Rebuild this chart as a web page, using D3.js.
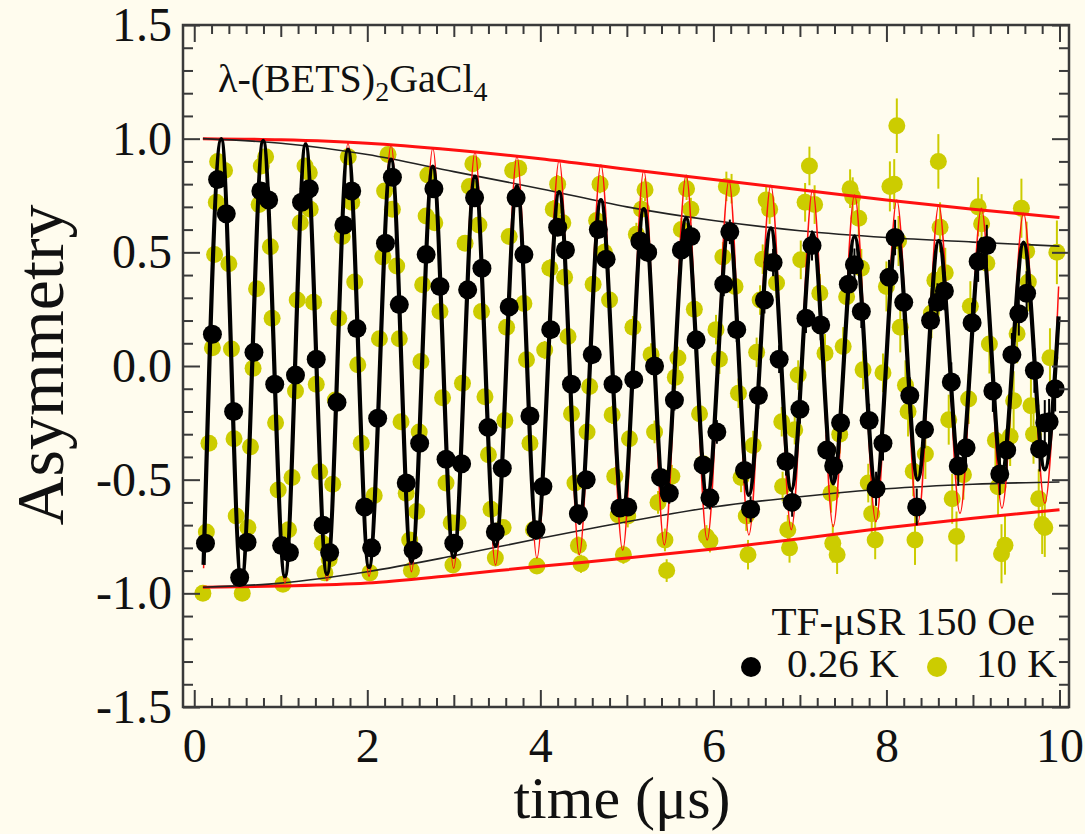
<!DOCTYPE html>
<html><head><meta charset="utf-8">
<script src="https://cdn.jsdelivr.net/npm/d3@7"></script>
<style>
html,body{margin:0;padding:0;background:#fffcee;}
svg{display:block;}
text{font-family:"Liberation Serif","Times New Roman",serif;fill:#111;}
</style></head><body>
<svg id="chart" width="1085" height="834"></svg>
<script>
// ---- tick labels ----
const xTicks = [0, 2, 4, 6, 8, 10];
const yTicks = [-1.5, -1.0, -0.5, 0.0, 0.5, 1.0, 1.5];

// ---- 0.26 K data: [time (us), asymmetry, error] ----
const coldData = [
[0.13,-0.78,.012],[0.21,0.14,.012],[0.27,0.82,.012],[0.37,0.67,.013],[0.455,-0.20,.013],[0.525,-0.93,.013],[0.61,-0.775,.013],[0.69,0.06,.013],[0.77,0.77,.014],[0.86,0.73,.014],[0.93,-0.08,.014],[1.01,-0.79,.015],[1.10,-0.82,.015],[1.17,-0.04,.015],[1.24,0.72,.015],[1.33,0.78,.016],[1.41,0.03,.016],[1.49,-0.70,.016],[1.565,-0.82,.017],[1.65,-0.16,.017],[1.73,0.62,.017],[1.82,0.77,.018],[1.88,0.165,.018],[1.97,-0.62,.018],
[2.05,-0.80,.02],[2.12,-0.23,.02],[2.21,0.54,.02],[2.29,0.83,.02],[2.37,0.27,.021],[2.45,-0.515,.021],[2.53,-0.81,.022],[2.605,-0.34,.022],[2.68,0.49,.023],[2.77,0.78,.023],[2.84,0.35,.024],[2.91,-0.41,.024],[3.00,-0.78,.025],[3.09,-0.43,.025],[3.16,0.335,.026],[3.24,0.74,.026],[3.325,0.43,.027],[3.395,-0.27,.027],[3.48,-0.73,.028],[3.56,-0.45,.028],[3.64,0.26,.029],[3.72,0.74,.029],[3.81,0.49,.03],[3.88,-0.22,.03],[3.95,-0.72,.031],
[4.03,-0.53,.032],[4.12,0.16,.032],[4.20,0.61,.033],[4.29,0.51,.034],[4.36,-0.08,.034],[4.44,-0.65,.035],[4.53,-0.50,.036],[4.60,0.05,.036],[4.67,0.60,.037],[4.76,0.47,.038],[4.84,-0.08,.038],[4.92,-0.625,.039],[5.01,-0.62,.04],[5.08,-0.06,.041],[5.15,0.55,.042],[5.24,0.50,.043],[5.32,0.0,.044],[5.39,-0.49,.045],[5.49,-0.56,.046],[5.55,-0.15,.046],[5.63,0.51,.047],[5.74,0.57,.048],[5.80,0.115,.049],[5.88,-0.435,.05],[5.96,-0.58,.051],
[6.04,-0.29,.052],[6.12,0.36,.053],[6.19,0.59,.054],[6.27,0.16,.055],[6.36,-0.46,.056],[6.43,-0.63,.057],[6.52,-0.13,.058],[6.59,0.29,.059],[6.69,0.455,.06],[6.76,0.03,.061],[6.84,-0.42,.062],[6.91,-0.60,.063],[7.00,-0.19,.064],[7.07,0.21,.065],[7.14,0.53,.066],[7.24,0.18,.067],[7.31,-0.37,.068],[7.39,-0.44,.069],[7.47,-0.25,.07],[7.56,0.36,.071],[7.63,0.445,.072],[7.71,0.24,.073],[7.80,-0.24,.074],[7.88,-0.54,.075],[7.96,-0.34,.076],
[8.03,0.39,.077],[8.10,0.565,.078],[8.20,0.28,.079],[8.27,-0.13,.08],[8.35,-0.62,.081],[8.44,-0.28,.082],[8.51,0.20,.083],[8.59,0.28,.084],[8.67,0.33,.085],[8.75,-0.07,.086],[8.83,-0.44,.087],[8.92,-0.36,.088],[8.99,0.19,.089],[9.06,0.46,.09],[9.16,0.53,.091],[9.23,-0.11,.092],[9.31,-0.475,.093],[9.39,-0.37,.094],[9.45,0.05,.095],[9.53,0.23,.096],[9.62,0.32,.097],[9.71,-0.02,.098],[9.77,-0.365,.099],[9.83,-0.25,.1],[9.88,-0.245,.1],[9.95,-0.10,.1]
];

// ---- 10 K data: [time (us), asymmetry, error] ----
const warmData = [
[0.10,-1.00,.015],[0.14,-0.73,.015],[0.17,-0.34,.015],[0.21,0.08,.015],[0.235,0.49,.015],[0.255,0.72,.015],[0.27,0.90,.015],[0.35,0.86,.015],[0.40,0.45,.015],[0.43,0.075,.015],[0.46,-0.32,.015],[0.485,-0.66,.015],[0.555,-1.00,.015],[0.62,-0.71,.015],[0.65,-0.355,.015],[0.68,-0.01,.015],[0.72,0.34,.015],[0.75,0.71,.015],[0.775,0.88,.015],[0.825,0.92,.015],[0.88,0.525,.015],[0.90,0.21,.015],[0.94,-0.25,.015],[0.97,-0.545,.015],
[1.025,-0.96,.02],[1.09,-0.72,.02],[1.13,-0.49,.02],[1.17,-0.11,.02],[1.19,0.29,.02],[1.225,0.63,.02],[1.28,0.88,.02],[1.33,0.85,.02],[1.34,0.69,.02],[1.38,0.28,.02],[1.41,-0.08,.02],[1.45,-0.465,.02],[1.48,-0.78,.02],[1.51,-0.91,.02],[1.56,-0.85,.02],[1.60,-0.52,.02],[1.63,-0.15,.02],[1.67,0.21,.02],[1.71,0.57,.02],[1.78,0.92,.02],[1.82,0.72,.02],[1.855,0.37,.02],[1.89,0.005,.02],[1.93,-0.34,.02],
[2.03,-0.91,.025],[2.08,-0.57,.025],[2.14,0.12,.025],[2.18,0.48,.025],[2.20,0.77,.025],[2.24,0.93,.025],[2.29,0.69,.025],[2.34,0.44,.025],[2.37,0.12,.025],[2.39,-0.245,.025],[2.45,-0.56,.025],[2.49,-0.765,.025],[2.51,-0.90,.025],[2.57,-0.64,.025],[2.60,-0.29,.025],[2.62,0.02,.025],[2.64,0.357,.025],[2.68,0.66,.025],[2.70,0.84,.025],[2.78,0.63,.025],[2.84,0.24,.025],[2.87,-0.14,.025],[2.91,-0.515,.025],[2.97,-0.69,.025],[2.99,-0.875,.025],
[3.05,-0.69,.03],[3.10,-0.076,.03],[3.13,0.54,.03],[3.18,0.79,.03],[3.22,0.89,.03],[3.29,0.62,.03],[3.32,0.24,.03],[3.36,-0.135,.03],[3.40,-0.39,.03],[3.43,-0.63,.03],[3.48,-0.845,.03],[3.57,-0.71,.03],[3.59,-0.24,.03],[3.61,0.17,.03],[3.64,0.57,.03],[3.68,0.86,.03],[3.75,0.87,.03],[3.81,0.275,.03],[3.84,0.027,.03],[3.88,-0.34,.03],[3.92,-0.72,.03],[3.96,-0.88,.03],
[4.05,0.07,.04],[4.11,0.43,.04],[4.15,0.69,.04],[4.20,0.80,.04],[4.26,0.63,.04],[4.28,0.39,.04],[4.32,0.13,.04],[4.36,-0.21,.04],[4.40,-0.515,.04],[4.44,-0.79,.04],[4.47,-0.87,.04],[4.54,-0.29,.04],[4.57,-0.09,.04],[4.61,0.36,.04],[4.65,0.64,.04],[4.69,0.80,.04],[4.74,0.50,.04],[4.80,0.29,.04],[4.83,-0.215,.04],[4.86,-0.485,.04],[4.90,-0.655,.04],[4.96,-0.83,.04],
[5.01,-0.66,.05],[5.03,-0.32,.05],[5.07,0.17,.05],[5.11,0.58,.05],[5.17,0.69,.05],[5.21,0.775,.05],[5.28,0.05,.05],[5.32,-0.29,.05],[5.36,-0.60,.05],[5.44,-0.765,.05],[5.46,-0.90,.05],[5.52,-0.485,.05],[5.56,-0.05,.05],[5.59,0.035,.05],[5.63,0.60,.05],[5.69,0.78,.05],[5.74,0.69,.05],[5.78,0.25,.05],[5.84,-0.21,.05],[5.88,-0.43,.05],[5.92,-0.75,.05],[5.96,-0.77,.05],
[6.03,0.16,.065],[6.07,0.03,.065],[6.11,0.48,.065],[6.15,0.79,.065],[6.21,0.78,.065],[6.25,0.35,.065],[6.29,-0.12,.065],[6.32,-0.49,.065],[6.38,-0.66,.065],[6.40,-0.83,.065],[6.46,-0.35,.065],[6.50,0.06,.065],[6.54,0.29,.065],[6.57,0.47,.065],[6.61,0.73,.065],[6.65,0.69,.065],[6.73,0.365,.065],[6.79,-0.245,.065],[6.80,-0.53,.065],[6.86,-0.72,.065],[6.88,-0.80,.065],[6.94,-0.28,.065],[6.98,-0.04,.065],
[7.01,0.467,.085],[7.06,0.72,.085],[7.11,0.88,.085],[7.17,0.71,.085],[7.23,0.32,.085],[7.29,0.056,.085],[7.32,-0.37,.085],[7.36,-0.56,.085],[7.38,-0.78,.085],[7.43,-0.83,.085],[7.46,-0.30,.085],[7.50,0.086,.085],[7.54,0.305,.085],[7.58,0.78,.085],[7.61,0.745,.085],[7.68,0.65,.085],[7.71,0.43,.085],[7.73,-0.017,.085],[7.79,-0.515,.085],[7.83,-0.65,.085],[7.87,-0.765,.085],[7.96,-0.03,.085],
[8.00,0.35,.11],[8.04,0.79,.11],[8.09,0.80,.11],[8.12,1.057,.12],[8.14,0.55,.11],[8.16,0.17,.11],[8.22,-0.085,.11],[8.25,-0.20,.11],[8.31,-0.463,.11],[8.33,-0.765,.11],[8.45,-0.387,.11],[8.52,0.233,.11],[8.56,0.377,.11],[8.60,0.90,.12],[8.62,0.61,.11],[8.68,0.41,.11],[8.72,-0.236,.11],[8.76,-0.584,.11],[8.81,-0.75,.11],[8.89,-0.478,.11],[8.95,-0.145,.11],[8.97,0.263,.11],
[9.06,0.70,.13],[9.10,0.626,.13],[9.16,0.452,.13],[9.19,0.097,.13],[9.26,-0.327,.13],[9.29,-0.531,.13],[9.33,-0.826,.13],[9.37,-0.788,.13],[9.43,-0.31,.13],[9.47,-0.153,.13],[9.51,0.142,.13],[9.56,0.694,.13],[9.62,0.505,.13],[9.64,0.37,.13],[9.67,-0.175,.13],[9.70,-0.30,.13],[9.76,-0.584,.13],[9.80,-0.697,.13],[9.83,-0.71,.13],[9.89,0.036,.13],[9.97,0.50,.14]
];

// ---- fit curves: turning points ----
const fitT = [0.108,0.312,0.545,0.797,1.048,1.287,1.534,1.777,2.02,2.275,2.51,2.757,2.998,3.245,3.482,3.73,3.96,4.218,4.45,4.70,4.952,5.196,5.433,5.685,5.928,6.18,6.41,6.664,6.90,7.147,7.385,7.632,7.878,8.12,8.362,8.605,8.85,9.098,9.335,9.585,9.83,9.99];
const coldFitA = [-0.875,0.998,-0.95,0.99,-0.925,0.975,-0.915,0.952,-0.885,0.908,-0.86,0.877,-0.84,0.833,-0.79,0.79,-0.745,0.765,-0.69,0.73,-0.64,0.69,-0.59,0.65,-0.575,0.616,-0.567,0.606,-0.545,0.584,-0.516,0.57,-0.53,0.585,-0.50,0.55,-0.47,0.558,-0.463,0.543,-0.455,0.218];
const warmFitA = [-0.89,1.0,-0.965,0.995,-0.955,0.99,-0.945,0.98,-0.925,0.972,-0.905,0.958,-0.89,0.94,-0.875,0.922,-0.845,0.905,-0.83,0.885,-0.81,0.86,-0.787,0.84,-0.765,0.815,-0.743,0.795,-0.72,0.774,-0.706,0.752,-0.685,0.73,-0.69,0.708,-0.648,0.694,-0.626,0.672,-0.604,0.35];

// ---- envelopes ----
const envT = [0.1, 1, 2, 3, 4, 5, 6, 7, 8, 9, 10];
const warmEnvTop = [1.0, 0.995, 0.98, 0.95, 0.912, 0.865, 0.82, 0.775, 0.73, 0.69, 0.653];
const warmEnvBot = [-0.973, -0.968, -0.955, -0.92, -0.881, -0.845, -0.805, -0.76, -0.712, -0.67, -0.632];
const coldEnvTop = [1.0, 0.98, 0.93, 0.855, 0.78, 0.70, 0.64, 0.595, 0.565, 0.545, 0.527];
const coldEnvBot = [-0.973, -0.955, -0.905, -0.835, -0.758, -0.685, -0.62, -0.575, -0.54, -0.52, -0.51];

// ---- drawing ----
const W = 1085, H = 834;
const L = 183, R = 1069, T = 25, B = 707;
const svg = d3.select("#chart");
svg.append("rect").attr("width", W).attr("height", H).attr("fill", "#fffcee");

const x = d3.scaleLinear().domain([-0.13, 10.11]).range([L, R]);
const y = d3.scaleLinear().domain([-1.5, 1.5]).range([B, T]);

const yellow = "#cccc00";

svg.append("clipPath").attr("id", "clip").append("rect")
  .attr("x", L).attr("y", T).attr("width", R - L).attr("height", B - T);
const plot = svg.append("g").attr("clip-path", "url(#clip)");

const line = d3.line().x(d => x(d[0])).y(d => y(d[1])).curve(d3.curveMonotoneX);
const zipT = (ts, vs) => ts.map((t, i) => [t, vs[i]]);

// yellow error bars + dots
plot.append("g").selectAll("line").data(warmData).join("line")
  .attr("x1", d => x(d[0])).attr("x2", d => x(d[0]))
  .attr("y1", d => y(d[1] - d[2])).attr("y2", d => y(d[1] + d[2]))
  .attr("stroke", yellow).attr("stroke-width", 2);
plot.append("g").selectAll("circle").data(warmData).join("circle")
  .attr("cx", d => x(d[0])).attr("cy", d => y(d[1])).attr("r", 8.5)
  .attr("fill", yellow);

// envelopes
plot.append("path").datum(zipT(envT, warmEnvTop)).attr("d", line)
  .attr("fill", "none").attr("stroke", "#ff1010").attr("stroke-width", 3);
plot.append("path").datum(zipT(envT, warmEnvBot)).attr("d", line)
  .attr("fill", "none").attr("stroke", "#ff1010").attr("stroke-width", 3);
plot.append("path").datum(zipT(envT, coldEnvTop)).attr("d", line)
  .attr("fill", "none").attr("stroke", "#222").attr("stroke-width", 1.6);
plot.append("path").datum(zipT(envT, coldEnvBot)).attr("d", line)
  .attr("fill", "none").attr("stroke", "#222").attr("stroke-width", 1.6);

// red fit (10 K)
plot.append("path").datum(zipT(fitT, warmFitA)).attr("d", line)
  .attr("fill", "none").attr("stroke", "#ff1010").attr("stroke-width", 1.5);

// black error bars
plot.append("g").selectAll("line").data(coldData).join("line")
  .attr("x1", d => x(d[0])).attr("x2", d => x(d[0]))
  .attr("y1", d => y(d[1] - d[2])).attr("y2", d => y(d[1] + d[2]))
  .attr("stroke", "#000").attr("stroke-width", 2);

// black fit (0.26 K)
plot.append("path").datum(zipT(fitT, coldFitA)).attr("d", line)
  .attr("fill", "none").attr("stroke", "#000").attr("stroke-width", 4.2)
  .attr("stroke-linejoin", "round");

// black dots
plot.append("g").selectAll("circle").data(coldData).join("circle")
  .attr("cx", d => x(d[0])).attr("cy", d => y(d[1])).attr("r", 9.5)
  .attr("fill", "#000");

// ---- axes ----
const tickCol = "#3a3a3a";
const xMinor = d3.range(0.2, 10.01, 0.2).filter(v => Math.abs(v / 2 - Math.round(v / 2)) > 1e-6);
const xOdd = [1, 3, 5, 7, 9];
const yMinor = d3.range(-1.5, 1.501, 0.1).filter(v => Math.abs(v * 2 - Math.round(v * 2)) > 1e-6);

function styleAxis(g) {
  g.select(".domain").remove();
  g.attr("color", tickCol).attr("font-family", "Liberation Serif, Times New Roman, serif").attr("font-size", 48);
  g.selectAll(".tick line").attr("stroke-width", 2);
  g.selectAll(".tick text").attr("fill", "#111");
}
const fmtY = d => d.toFixed(1);
const xPlain = xMinor.filter(v => !xOdd.some(o => Math.abs(o - v) < 1e-6));

// bottom
svg.append("g").attr("transform", `translate(0,${B})`)
  .call(d3.axisBottom(x).tickValues(xTicks).tickSizeInner(-17).tickSizeOuter(0).tickPadding(21).tickFormat(d => String(d)))
  .call(styleAxis);
svg.append("g").attr("transform", `translate(0,${B})`)
  .call(d3.axisBottom(x).tickValues(xPlain).tickSize(-9).tickFormat(""))
  .call(styleAxis);
svg.append("g").attr("transform", `translate(0,${B})`)
  .call(d3.axisBottom(x).tickValues(xOdd).tickSize(-12).tickFormat(""))
  .call(styleAxis);
// top
svg.append("g").attr("transform", `translate(0,${T})`)
  .call(d3.axisTop(x).tickValues(xTicks).tickSize(-17).tickFormat(""))
  .call(styleAxis);
svg.append("g").attr("transform", `translate(0,${T})`)
  .call(d3.axisTop(x).tickValues(xPlain).tickSize(-9).tickFormat(""))
  .call(styleAxis);
svg.append("g").attr("transform", `translate(0,${T})`)
  .call(d3.axisTop(x).tickValues(xOdd).tickSize(-12).tickFormat(""))
  .call(styleAxis);
// left
svg.append("g").attr("transform", `translate(${L},0)`)
  .call(d3.axisLeft(y).tickValues(yTicks).tickSizeInner(-17).tickSizeOuter(0).tickPadding(11).tickFormat(fmtY))
  .call(styleAxis);
svg.append("g").attr("transform", `translate(${L},0)`)
  .call(d3.axisLeft(y).tickValues(yMinor).tickSize(-10).tickFormat(""))
  .call(styleAxis);
// right
svg.append("g").attr("transform", `translate(${R},0)`)
  .call(d3.axisRight(y).tickValues(yTicks).tickSize(-17).tickFormat(""))
  .call(styleAxis);
svg.append("g").attr("transform", `translate(${R},0)`)
  .call(d3.axisRight(y).tickValues(yMinor).tickSize(-10).tickFormat(""))
  .call(styleAxis);

// frame
svg.append("rect").attr("x", L).attr("y", T).attr("width", R - L).attr("height", B - T)
  .attr("fill", "none").attr("stroke", tickCol).attr("stroke-width", 2.5);

// ---- axis titles ----
svg.append("text").attr("x", 622).attr("y", 818).attr("text-anchor", "middle")
  .attr("font-size", 60).text("time (μs)");
svg.append("text").attr("transform", `translate(63,365) rotate(-90)`)
  .attr("text-anchor", "middle").attr("font-size", 68).text("Asymmetry");

// ---- compound label ----
const lab = svg.append("text").attr("x", 218).attr("y", 92).attr("font-size", 40);
lab.append("tspan").text("λ-(BETS)");
lab.append("tspan").attr("font-size", 28).attr("dy", 9).text("2");
lab.append("tspan").attr("dy", -9).text("GaCl");
lab.append("tspan").attr("font-size", 28).attr("dy", 9).text("4");

// ---- legend ----
svg.append("text").attr("x", 1035).attr("y", 635).attr("text-anchor", "end")
  .attr("font-size", 41).text("TF-μSR 150 Oe");
svg.append("circle").attr("cx", 751).attr("cy", 667).attr("r", 10).attr("fill", "#000");
svg.append("text").attr("x", 787).attr("y", 677).attr("font-size", 41).text("0.26 K");
svg.append("circle").attr("cx", 937).attr("cy", 667).attr("r", 10).attr("fill", yellow);
svg.append("text").attr("x", 976).attr("y", 677).attr("font-size", 41).text("10 K");
</script></body></html>
